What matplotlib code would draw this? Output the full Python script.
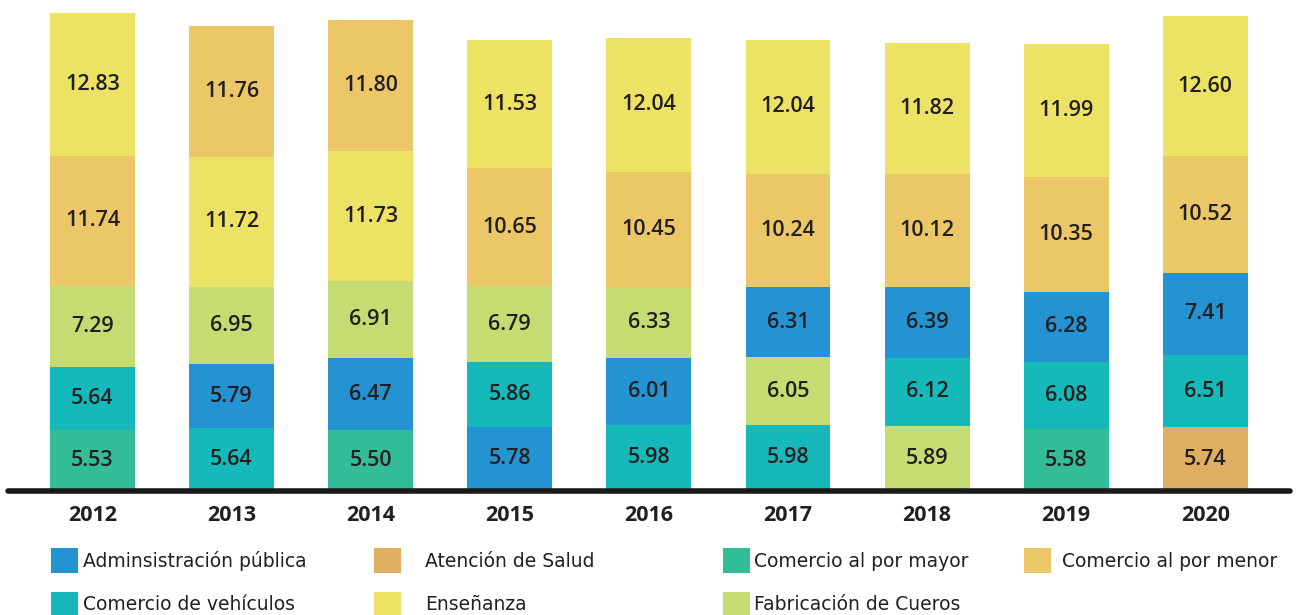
import numpy as np
import matplotlib
matplotlib.use('Agg')
import matplotlib.pyplot as plt
from matplotlib.patches import Patch

nan = np.nan
years = ['2012', '2013', '2014', '2015', '2016', '2017', '2018', '2019', '2020']

adm_publica = [nan, 5.79, 6.47, 5.78, 6.01, 6.31, 6.39, 6.28, 7.41]
atencion_salud = [nan, nan, nan, nan, nan, nan, nan, nan, 5.74]
comercio_mayor = [5.53, nan, 5.50, nan, nan, nan, nan, 5.58, nan]
comercio_menor = [11.74, 11.76, 11.80, 10.65, 10.45, 10.24, 10.12, 10.35, 10.52]
comercio_vehiculos = [5.64, 5.64, nan, 5.86, 5.98, 5.98, 6.12, 6.08, 6.51]
ensenanza = [12.83, 11.72, 11.73, 11.53, 12.04, 12.04, 11.82, 11.99, 12.60]
fabricacion_cueros = [7.29, 6.95, 6.91, 6.79, 6.33, 6.05, 5.89, nan, nan]

series = [
    ('Adminsistración pública', adm_publica, '#2394d1'),
    ('Atención de Salud', atencion_salud, '#dfae60'),
    ('Comercio al por mayor', comercio_mayor, '#33bd97'),
    ('Comercio al por menor', comercio_menor, '#ecc767'),
    ('Comercio de vehículos', comercio_vehiculos, '#16b9b9'),
    ('Enseñanza', ensenanza, '#ece264'),
    ('Fabricación de Cueros', fabricacion_cueros, '#c5dc72'),
]

plt.rcParams['font.family'] = ['Open Sans', 'DejaVu Sans']
txt_color = '#231f20'

fig = plt.figure(figsize=(12.97, 6.15), dpi=100)
ax = fig.add_axes([8/1297, 124/615, 1282/1297, 491/615])

x = np.arange(len(years))
width = 0.61

# each year is stacked from smallest to largest value
for i in range(len(years)):
    vals = [(s[1][i], s[2]) for s in series if not np.isnan(s[1][i])]
    vals.sort(key=lambda v: v[0])
    bottom = 0
    for v, c in vals:
        ax.bar(x[i], v, width, bottom=bottom, color=c, linewidth=0)
        ax.text(x[i], bottom + v/2, '%.2f' % v, ha='center', va='center',
                fontsize=15.5, fontweight='semibold', color=txt_color)
        bottom += v

ax.set_xlim(-0.607, 8.609)
ax.set_ylim(0, 44.23)
ax.axhline(0, color='#1a1a1a', linewidth=4, solid_capstyle='round', clip_on=False)
for sp in ax.spines.values():
    sp.set_visible(False)
ax.set_yticks([])
ax.set_xticks(x)
ax.set_xticklabels(years, fontsize=15.5, fontweight='bold', color=txt_color)
ax.tick_params(axis='x', length=0, pad=10)

# legend: four columns placed by hand
cols = [[0, 4], [1, 5], [2, 6], [3]]
col_x = [51, 374, 723, 1024]
pads = [0.27, 1.28, 0.21, 0.59]
for cx, idx, pd_ in zip(col_x, cols, pads):
    handles = [Patch(facecolor=series[j][2], label=series[j][0]) for j in idx]
    fig.legend(handles=handles, loc='upper left', bbox_to_anchor=(cx/1297, 1 - 548/615),
               frameon=False, prop={'family': 'DejaVu Sans', 'size': 13.5},
               handlelength=1.44, handleheight=1.67,
               handletextpad=pd_, labelspacing=1.0, borderpad=0, borderaxespad=0,
               labelcolor=txt_color)

fig.savefig('out.png', dpi=100, facecolor='white')
